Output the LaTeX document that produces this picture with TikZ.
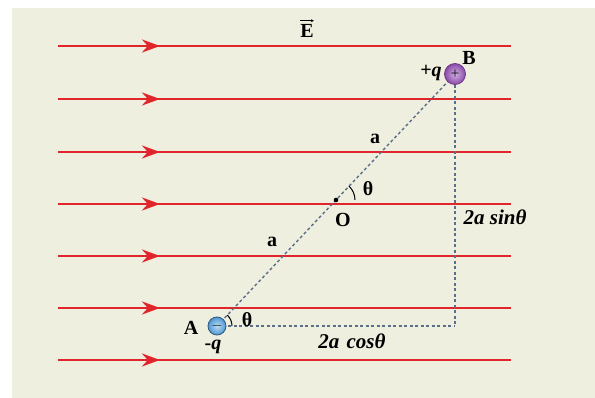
\documentclass[tikz,border=0pt]{standalone}
\usepackage{fontspec}
\setmainfont{Liberation Serif}
\usetikzlibrary{arrows.meta,decorations.markings,shadings,calc}
\definecolor{bgc}{HTML}{EFEFDF}
\definecolor{fieldred}{HTML}{E0262B}
\definecolor{dashc}{HTML}{5B6F8C}
\definecolor{pin}{HTML}{D2B0E2}
\definecolor{pout}{HTML}{8A4AA8}
\definecolor{bin}{HTML}{B8DDF4}
\definecolor{bout}{HTML}{4F95D2}
\begin{document}
\begin{tikzpicture}[x=1pt,y=-1pt,
  fieldline/.style={draw=fieldred, line width=2.8pt,
    postaction={decorate},
    decoration={markings, mark=at position 102pt with {\arrow{Stealth[length=18pt,width=13pt,fill=fieldred]}}}},
  dashln/.style={draw=dashc, line width=1.4pt, dash pattern=on 3pt off 2.5pt},
  lbl/.style={font=\fontsize{20}{22}\selectfont\bfseries, inner sep=0pt},
  ilbl/.style={font=\fontsize{21}{23}\selectfont\bfseries\itshape, inner sep=0pt},
  anglearc/.style={draw=black, line width=1pt}
]
\useasboundingbox (0,0) rectangle (595,398);
\fill[white] (0,0) rectangle (595,398);
\fill[bgc] (12,8) rectangle (595,398);

% field lines
\foreach \yy/\nm in {46/l1,99/l2,152/l3,204/l4,256/l5,308/l6,360/l7}{
  \coordinate (\nm s) at (58,\yy);
  \coordinate (\nm e) at (511,\yy);
  \path[fieldline] (\nm s) -- (\nm e);
}

% points
\coordinate (A) at (217,326);
\coordinate (B) at (455,74);
\coordinate (C) at (455,326);
\coordinate (O) at (336,200);

% dashed lines
\draw[dashln] (A) -- (B);
\draw[dashln] (A) -- (C);
\draw[dashln] (B) -- (C);

% O dot
\fill[black] (O) circle (2.3pt);

% angle arcs
\draw[anglearc] ($(A)+(15,0)$) arc[start angle=0, end angle=-46.6, radius=15];
\draw[anglearc] ($(O)+(19,0)$) arc[start angle=0, end angle=-46.6, radius=19];

% charges
\node[circle, minimum size=21pt, inner sep=0pt, draw=pout!80!black, line width=0.8pt,
  inner color=pin, outer color=pout] (Bq) at (B) {};
\node[font=\fontsize{15}{15}\selectfont, inner sep=0pt] at (B) {+};
\node[circle, minimum size=18pt, inner sep=0pt, draw=bout!60!black, line width=0.8pt,
  inner color=bin, outer color=bout] (Aq) at (A) {};
\node[font=\fontsize{14}{14}\selectfont, inner sep=0pt] at (A) {$-$};

% labels
\node[lbl] (Elbl) at (307,31) {E};
\draw[-{Stealth[length=3pt,width=3pt]}, line width=0.6pt] ($(Elbl.north west)+(0,-3.5)$) -- ($(Elbl.north east)+(0,-3.5)$);
\node[lbl] (Blbl) at (469,58) {B};
\node[lbl] (pq) at (431,73) {+\textit{q}};
\node[lbl] (Albl) at (191,328) {A};
\node[lbl] (mq) at (213,347) {-\textit{q}};
\node[lbl] (th1) at (247,320) {θ};
\node[lbl] (th2) at (368,189) {θ};
\node[lbl] (Olbl) at (343,220) {O};
\node[lbl] (a1) at (375,139) {a};
\node[lbl] (a2) at (272,242) {a};
\node[ilbl] (sinl) at (495,217) {2a sinθ};
\node[ilbl] (cosl) at (352,341) {2a\hspace{2pt} cosθ};
\end{tikzpicture}
\end{document}
